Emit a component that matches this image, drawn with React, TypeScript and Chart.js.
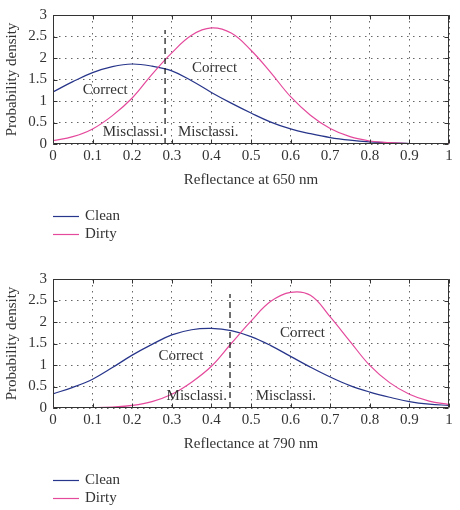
import React, { useEffect, useRef } from "react";
import { Chart, registerables } from "chart.js";

Chart.register(...registerables);

// Reflectance sample positions shared by every curve
const reflectance = [0, 0.05, 0.1, 0.15, 0.2, 0.25, 0.3, 0.35, 0.4, 0.45, 0.5, 0.55, 0.6, 0.65, 0.7, 0.75, 0.8, 0.85, 0.9, 0.95, 1];

// Probability density at 650 nm
const clean650 = [1.21, 1.45, 1.66, 1.8, 1.86, 1.81, 1.7, 1.47, 1.2, 0.95, 0.72, 0.51, 0.35, 0.24, 0.15, 0.09, 0.05, 0.025, 0.012, 0.005, 0.002];
const dirty650 = [0.08, 0.17, 0.35, 0.66, 1.07, 1.62, 2.12, 2.53, 2.7, 2.58, 2.18, 1.66, 1.1, 0.67, 0.36, 0.17, 0.07, 0.03, 0.01, 0.003, 0.001];

// Probability density at 790 nm
const clean790 = [0.33, 0.48, 0.67, 0.94, 1.23, 1.48, 1.7, 1.82, 1.85, 1.8, 1.66, 1.45, 1.2, 0.95, 0.72, 0.52, 0.37, 0.25, 0.15, 0.09, 0.06];
const dirty790 = [0, 0.001, 0.005, 0.02, 0.06, 0.15, 0.32, 0.6, 0.97, 1.5, 2.02, 2.48, 2.69, 2.62, 2.12, 1.55, 0.99, 0.59, 0.32, 0.16, 0.08];

// Decision thresholds (dashed markers)
const threshold650 = 0.283;
const threshold790 = 0.447;
const thresholdHeight = 2.65;

const seriesNames = ["Clean", "Dirty"];
const axisTitles = ["Reflectance at 650 nm", "Reflectance at 790 nm"];
const yTitle = "Probability density";

const xTicks = [0, 0.1, 0.2, 0.3, 0.4, 0.5, 0.6, 0.7, 0.8, 0.9, 1];
const xTickLabels = ["0", "0.1", "0.2", "0.3", "0.4", "0.5", "0.6", "0.7", "0.8", "0.9", "1"];
const yTicks = [0, 0.5, 1, 1.5, 2, 2.5, 3];
const yTickLabels = ["0", "0.5", "1", "1.5", "2", "2.5", "3"];

// Region labels, placed in data coordinates
const noteText650 = ["Correct", "Correct", "Misclassi.", "Misclassi."];
const noteX650 = [0.132, 0.408, 0.202, 0.392];
const noteY650 = [1.25, 1.77, 0.27, 0.27];
const noteText790 = ["Correct", "Correct", "Misclassi.", "Misclassi."];
const noteX790 = [0.323, 0.63, 0.363, 0.588];
const noteY790 = [1.2, 1.74, 0.27, 0.27];

const FONT = '"Liberation Serif", "Times New Roman", serif';
const TEXT = "#333";
const BLUE = "#27358a";
const PINK = "#e4499c";
const GRID = "#666";

const decor = {
  id: "decor",
  afterDatasetsDraw(chart: any, _args: any, opts: any) {
    const { ctx, chartArea: a, scales } = chart;
    const x = scales.x;
    const y = scales.y;
    ctx.save();

    // region labels
    ctx.font = `15px ${FONT}`;
    ctx.fillStyle = TEXT;
    ctx.textAlign = "center";
    ctx.textBaseline = "middle";
    opts.text.forEach((t: string, i: number) => {
      ctx.fillText(t, x.getPixelForValue(opts.xs[i]), y.getPixelForValue(opts.ys[i]));
    });

    // axes box with inward tick marks
    const L = Math.round(a.left) + 0.5;
    const R = Math.round(a.right) - 0.5;
    const T = Math.round(a.top) + 0.5;
    const B = Math.round(a.bottom) - 0.5;
    ctx.strokeStyle = "#333";
    ctx.lineWidth = 1;
    ctx.setLineDash([]);
    ctx.beginPath();
    ctx.rect(L, T, R - L, B - T);
    const len = 4;
    xTicks.forEach((v) => {
      const px = Math.round(x.getPixelForValue(v)) + 0.5;
      ctx.moveTo(px, B);
      ctx.lineTo(px, B - len);
      ctx.moveTo(px, T);
      ctx.lineTo(px, T + len);
    });
    yTicks.forEach((v) => {
      const py = Math.round(y.getPixelForValue(v)) + 0.5;
      ctx.moveTo(L, py);
      ctx.lineTo(L + len, py);
      ctx.moveTo(R, py);
      ctx.lineTo(R - len, py);
    });
    ctx.stroke();

    // legend
    const colors = [BLUE, PINK];
    seriesNames.forEach((name, i) => {
      const ly = Math.round(a.bottom + 72 + i * 18) + 0.5;
      ctx.strokeStyle = colors[i];
      ctx.lineWidth = 1.2;
      ctx.beginPath();
      ctx.moveTo(a.left, ly);
      ctx.lineTo(a.left + 26, ly);
      ctx.stroke();
      ctx.fillStyle = TEXT;
      ctx.textAlign = "left";
      ctx.textBaseline = "middle";
      ctx.fillText(name, a.left + 32, ly);
    });
    ctx.restore();
  },
};

function makeConfig(clean: number[], dirty: number[], threshold: number, title: string, text: string[], xs: number[], ys: number[]): any {
  const font = { family: FONT, size: 15 };
  return {
    type: "line",
    data: {
      datasets: [
        {
          label: seriesNames[0],
          data: reflectance.map((r, i) => ({ x: r, y: clean[i] })),
          borderColor: BLUE,
          borderWidth: 1.2,
          pointRadius: 0,
          tension: 0.4,
          order: 2,
        },
        {
          label: seriesNames[1],
          data: reflectance.map((r, i) => ({ x: r, y: dirty[i] })),
          borderColor: PINK,
          borderWidth: 1.2,
          pointRadius: 0,
          tension: 0.4,
          order: 1,
        },
        {
          label: "threshold",
          data: [
            { x: threshold, y: 0 },
            { x: threshold, y: thresholdHeight },
          ],
          borderColor: "#111",
          borderWidth: 1.2,
          borderDash: [6, 4],
          pointRadius: 0,
          order: 0,
        },
      ],
    },
    options: {
      responsive: false,
      animation: false,
      devicePixelRatio: 1,
      layout: { padding: { left: 3, right: 11, top: 12, bottom: 57 } },
      plugins: {
        legend: { display: false },
        tooltip: { enabled: false },
        decor: { text, xs, ys },
      },
      scales: {
        x: {
          type: "linear",
          min: 0,
          max: 1,
          afterBuildTicks: (s: any) => {
            s.ticks = xTicks.map((v) => ({ value: v }));
          },
          afterFit: (s: any) => {
            s.height = 45;
          },
          ticks: {
            callback: (_v: any, i: number) => xTickLabels[i],
            font,
            color: TEXT,
            padding: 3,
            maxRotation: 0,
            autoSkip: false,
          },
          grid: { color: GRID, lineWidth: 1, drawTicks: false },
          border: { display: false, dash: [1.5, 4.5] },
          title: { display: true, text: title, font, color: TEXT, padding: 0 },
        },
        y: {
          type: "linear",
          min: 0,
          max: 3,
          afterBuildTicks: (s: any) => {
            s.ticks = yTicks.map((v) => ({ value: v }));
          },
          afterFit: (s: any) => {
            s.width = 50;
          },
          ticks: {
            callback: (_v: any, i: number) => yTickLabels[i],
            font,
            color: TEXT,
            padding: 6,
            autoSkip: false,
          },
          grid: { color: GRID, lineWidth: 1, drawTicks: false },
          border: { display: false, dash: [1.5, 4.5] },
          title: { display: true, text: yTitle, font, color: TEXT, padding: 0 },
        },
      },
    },
    plugins: [decor],
  };
}

function Panel(props: { top: number; config: () => any }) {
  const ref = useRef<HTMLCanvasElement | null>(null);
  useEffect(() => {
    if (!ref.current) return;
    const chart = new Chart(ref.current, props.config());
    return () => chart.destroy();
  }, []);
  return (
    <canvas
      ref={ref}
      width={460}
      height={246}
      style={{ position: "absolute", left: 0, top: props.top, width: 460, height: 246, display: "block" }}
    />
  );
}

export default function App() {
  return (
    <div style={{ position: "absolute", left: 0, top: 0, width: 460, height: 510, background: "#fff" }}>
      <Panel top={0} config={() => makeConfig(clean650, dirty650, threshold650, axisTitles[0], noteText650, noteX650, noteY650)} />
      <Panel top={264} config={() => makeConfig(clean790, dirty790, threshold790, axisTitles[1], noteText790, noteX790, noteY790)} />
    </div>
  );
}
